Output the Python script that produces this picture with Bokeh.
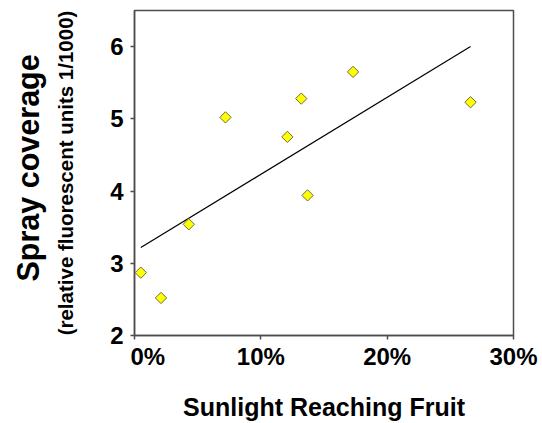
import numpy as np
from bokeh.plotting import figure
from bokeh.models import Range1d, FixedTicker, NumeralTickFormatter, Title
from bokeh.embed import file_html
from bokeh.resources import INLINE

# data
sunlight = [0.005, 0.021, 0.043, 0.072, 0.121, 0.132, 0.137, 0.173, 0.266]
coverage = [2.87, 2.52, 3.54, 5.02, 4.75, 5.28, 3.94, 5.65, 5.23]
trend_x = [0.005, 0.266]
trend_y = [3.22, 6.00]
x_ticks = [0.0, 0.1, 0.2, 0.3]
y_ticks = [2, 3, 4, 5, 6]

FONT = "Liberation Sans"
AXC = "#4d4d4d"

p = figure(width=542, height=423, output_backend="svg", toolbar_location=None,
           x_range=Range1d(0, 0.30), y_range=Range1d(2, 6.5),
           min_border_left=134, min_border_right=29, min_border_top=10, min_border_bottom=87)
p.xgrid.visible = False
p.ygrid.visible = False
p.outline_line_color = AXC
p.outline_line_width = 1.5
p.background_fill_color = "white"
p.border_fill_color = "white"

p.line(trend_x, trend_y, line_color="black", line_width=1.2)
p.scatter(sunlight, coverage, marker="square", angle=np.pi / 4, size=8,
          fill_color="#FFFF00", line_color="#6b6b4a", line_width=1)

for ax in (p.xaxis[0], p.yaxis[0]):
    ax.axis_line_color = AXC
    ax.axis_line_width = 1.5
    ax.major_tick_line_color = AXC
    ax.major_tick_line_width = 1.5
    ax.major_tick_out = 4
    ax.major_tick_in = 0
    ax.minor_tick_line_color = None
    ax.major_label_text_font = FONT
    ax.major_label_text_font_style = "bold"
    ax.major_label_text_font_size = "24px"
    ax.major_label_text_color = "black"

p.xaxis.ticker = FixedTicker(ticks=x_ticks)
p.xaxis.formatter = NumeralTickFormatter(format="0%")
p.xaxis.major_label_overrides = {0: "\u00a0\u00a0\u00a0\u00a00%"}
p.xaxis.major_label_standoff = 3
p.xaxis.axis_label = "Sunlight Reaching Fruit"
p.xaxis.axis_label_text_font = FONT
p.xaxis.axis_label_text_font_style = "bold"
p.xaxis.axis_label_text_font_size = "25px"
p.xaxis.axis_label_text_color = "black"
p.xaxis.axis_label_standoff = 20

p.yaxis.ticker = FixedTicker(ticks=y_ticks)
p.yaxis.major_label_standoff = 7
p.yaxis.axis_label = "(relative fluorescent units 1/1000)"
p.yaxis.axis_label_text_font = FONT
p.yaxis.axis_label_text_font_style = "bold"
p.yaxis.axis_label_text_font_size = "20.5px"
p.yaxis.axis_label_text_color = "black"
p.yaxis.axis_label_standoff = 30

main = Title(text="Spray coverage", align="left", text_font=FONT,
             text_font_style="bold", text_font_size="30.5px", text_color="black",
             standoff=13, offset=54)
p.add_layout(main, "left")

open("out.html", "w").write(file_html(p, INLINE))
